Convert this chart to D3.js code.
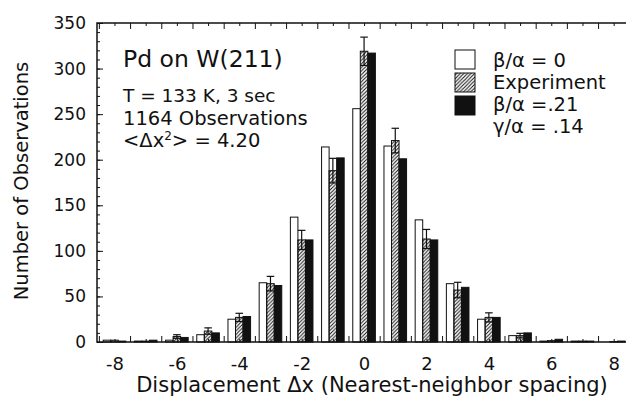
<!DOCTYPE html>
<meta charset="utf-8">
<head>
<style>
  body { margin: 0; background: #fff; }
  svg text { font-family: "DejaVu Sans", sans-serif; fill: #111; }
  .axis path, .axis line { stroke: #111; }
</style>
</head>
<body>
<svg id="chart"></svg>
<script src="https://cdn.jsdelivr.net/npm/d3@7"></script>
<script>

// displacement (nearest-neighbor spacings)
var displacement = [-8, -7, -6, -5, -4, -3, -2, -1, 0, 1, 2, 3, 4, 5, 6, 7, 8];
// beta/alpha = 0
var noLong = [2, 1, 2, 8, 25, 65, 137, 214, 256, 215, 134, 64, 25, 7, 1, 1, 0];
// experiment, with error bars
var experiment = [2, 1, 6, 12, 27, 64, 112, 188, 319, 221, 113, 57, 27, 7, 1.5, 1, 0.5];
var expError = [0, 0, 2, 3.5, 4.5, 8, 10.5, 13.5, 15.5, 13.5, 10.5, 8.5, 5, 2.5, 0, 0, 0];
// beta/alpha = .21, gamma/alpha = .14
var withLong = [1, 2, 5, 10, 28, 62, 112, 202, 317, 201, 112, 60, 27, 10, 3, 1, 1];

var series = ["zero", "exp", "fit"];
var legendLabels = ["β/α = 0", "Experiment", "β/α =.21", "γ/α = .14"];
var yTicks = [0, 50, 100, 150, 200, 250, 300, 350];
var xLabels = [-8, -6, -4, -2, 0, 2, 4, 6, 8];

var W = 626, H = 398;
var plotLeft = 97, plotTop = 23, plotBottom = 342;

var svg = d3.select("#chart").attr("width", W).attr("height", H);

var x = d3.scaleLinear().domain([-8.56, 9]).range([plotLeft, plotLeft + 17.56 * 31.2]);
var y = d3.scaleLinear().domain([0, 350]).range([plotBottom, plotTop]);
var band = d3.scaleBand().domain(series).range([-11.3, 11.3]);

var defs = svg.append("defs");
defs.append("pattern")
    .attr("id", "hatch")
    .attr("patternUnits", "userSpaceOnUse")
    .attr("width", 3.6).attr("height", 3.6)
  .append("path")
    .attr("d", "M-0.9,0.9 l1.8,-1.8 M0,3.6 l3.6,-3.6 M2.7,4.5 l1.8,-1.8")
    .attr("stroke", "#111").attr("stroke-width", 1);

var rows = displacement.map(function(d, i) {
  return {d: d, zero: noLong[i], exp: experiment[i], fit: withLong[i], err: expError[i]};
});

// ticks
var halfTicks = d3.range(-8.5, 9, 1);
var intTicks = d3.range(-8, 9, 1);

function tickAxis(gen, vals, size, ty) {
  svg.append("g").attr("class", "axis")
      .attr("transform", "translate(0," + ty + ")")
      .call(gen(x).tickValues(vals).tickSizeInner(size).tickSizeOuter(0).tickFormat(""))
      .call(function(g) { g.select(".domain").remove(); });
}
tickAxis(d3.axisBottom, halfTicks, -6, plotBottom);
tickAxis(d3.axisBottom, intTicks, -3, plotBottom);
tickAxis(d3.axisTop, halfTicks, -6, plotTop);
tickAxis(d3.axisTop, intTicks, -3, plotTop);

svg.append("g").attr("class", "axis")
    .attr("transform", "translate(" + plotLeft + ",0)")
    .call(d3.axisLeft(y).tickValues(d3.range(0, 351, 10)).tickSizeInner(-3).tickSizeOuter(0).tickFormat(""))
    .call(function(g) { g.select(".domain").remove(); });

svg.append("g").attr("class", "axis")
    .attr("transform", "translate(" + plotLeft + ",0)")
    .call(d3.axisLeft(y).tickValues(yTicks).tickSizeInner(-6).tickSizeOuter(0).tickPadding(11))
    .call(function(g) {
      g.select(".domain").remove();
      g.selectAll("text").style("font-size", "17px").style("font-family", "DejaVu Sans");
    });

svg.append("g").attr("class", "axis")
    .attr("transform", "translate(0," + plotBottom + ")")
    .call(d3.axisBottom(x).tickValues(xLabels).tickSize(0).tickPadding(15)
      .tickFormat(function(d) { return String(d); }))
    .call(function(g) {
      g.select(".domain").remove();
      g.selectAll("text").style("font-size", "18px").style("font-family", "DejaVu Sans");
    });

// bars
var groups = svg.selectAll(".grp")
    .data(rows)
  .enter().append("g")
    .attr("class", "grp")
    .attr("transform", function(r) { return "translate(" + x(r.d) + ",0)"; });

var fills = {zero: "#fff", exp: "url(#hatch)", fit: "#111"};

series.forEach(function(s) {
  groups.append("rect")
      .attr("x", band(s))
      .attr("width", band.bandwidth())
      .attr("y", function(r) { return y(r[s]); })
      .attr("height", function(r) { return y(0) - y(r[s]); })
      .attr("fill", fills[s])
      .attr("stroke", "#111")
      .attr("stroke-width", 1);
});

// error bars on the experiment
var eb = groups.filter(function(r) { return r.err > 0; }).append("g")
    .attr("stroke", "#111").attr("stroke-width", 1.2);
var cx = band("exp") + band.bandwidth() / 2;
eb.append("line")
    .attr("x1", cx).attr("x2", cx)
    .attr("y1", function(r) { return y(r.exp - r.err); })
    .attr("y2", function(r) { return y(r.exp + r.err); });
eb.append("line")
    .attr("x1", band("exp")).attr("x2", band("exp") + band.bandwidth())
    .attr("y1", function(r) { return y(r.exp + r.err); })
    .attr("y2", function(r) { return y(r.exp + r.err); });
eb.append("line")
    .attr("x1", band("exp")).attr("x2", band("exp") + band.bandwidth())
    .attr("y1", function(r) { return y(r.exp - r.err); })
    .attr("y2", function(r) { return y(r.exp - r.err); });

// frame
svg.append("path")
    .attr("d", "M" + (W + 20) + "," + plotTop + "H" + plotLeft + "V" + plotBottom + "H" + (W + 20))
    .attr("fill", "none").attr("stroke", "#111").attr("stroke-width", 1.5);

// axis titles
svg.append("text")
    .attr("x", 372).attr("y", 392)
    .attr("text-anchor", "middle")
    .style("font-size", "21px")
    .text("Displacement Δx (Nearest-neighbor spacing)");

svg.append("text")
    .attr("transform", "translate(28,181) rotate(-90)")
    .attr("text-anchor", "middle")
    .style("font-size", "19.5px")
    .text("Number of Observations");

// annotation
svg.append("text").attr("x", 123).attr("y", 67).style("font-size", "23.5px").text("Pd on W(211)");
svg.append("text").attr("x", 123).attr("y", 102).style("font-size", "18.5px").text("T = 133 K, 3 sec");
svg.append("text").attr("x", 123).attr("y", 125).style("font-size", "19.5px").text("1164 Observations");
var msd = svg.append("text").attr("x", 123).attr("y", 147).style("font-size", "19.5px");
msd.append("tspan").text("<Δx");
msd.append("tspan").attr("dy", -7).style("font-size", "12px").text("2");
msd.append("tspan").attr("dy", 7).text("> = 4.20");

// legend
var legend = svg.append("g").attr("transform", "translate(455,50)");
legendLabels.forEach(function(lab, i) {
  if (i < series.length) {
    legend.append("rect")
        .attr("x", 0).attr("y", i * 23)
        .attr("width", 20).attr("height", 19)
        .attr("fill", fills[series[i]])
        .attr("stroke", "#111").attr("stroke-width", 1);
  }
  legend.append("text")
      .attr("x", 38).attr("y", 17 + i * 22)
      .style("font-size", "19.5px")
      .text(lab);
});

</script>
</body>
